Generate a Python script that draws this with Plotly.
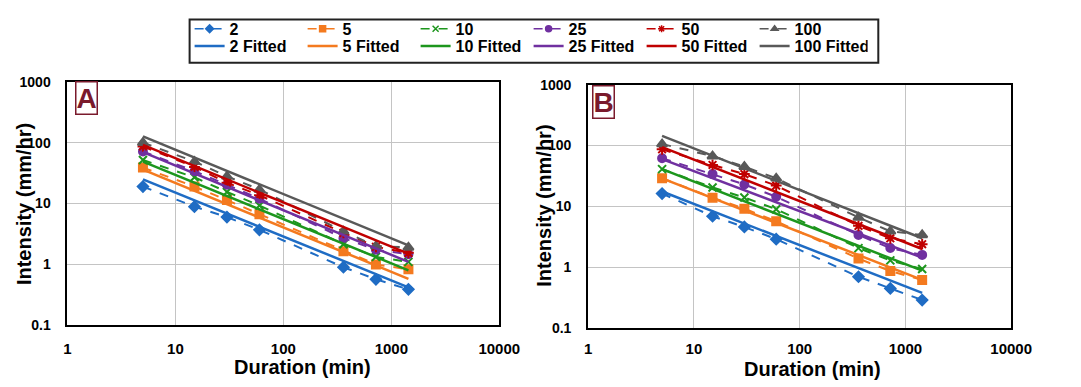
import plotly.graph_objects as go

# ---------------- data ----------------
durations = [5, 15, 30, 60, 360, 720, 1440]
fit_durations = [5, 1440]
periods = ["2", "5", "10", "25", "50", "100"]

# Panel A observed intensities (mm/hr)
a_obs_2 = [19, 8.9, 6.0, 3.7, 0.9, 0.57, 0.39]
a_obs_5 = [39, 19, 11.4, 6.7, 1.65, 1.0, 0.83]
a_obs_10 = [52, 27, 15.5, 9.3, 2.15, 1.33, 1.1]
a_obs_25 = [72, 34, 20.4, 12, 2.7, 1.74, 1.47]
a_obs_50 = [87, 40, 22, 13.7, 3.3, 1.95, 1.55]
a_obs_100 = [100, 49, 28, 17, 3.5, 2.0, 1.9]

# Panel A fitted (at 5 and 1440 min)
a_fit_2 = [25, 0.42]
a_fit_5 = [36, 0.58]
a_fit_10 = [49, 0.8]
a_fit_25 = [70, 1.1]
a_fit_50 = [92, 1.5]
a_fit_100 = [127, 2.05]

# Panel B observed intensities (mm/hr)
b_obs_2 = [16.3, 6.9, 4.6, 2.9, 0.70, 0.45, 0.29]
b_obs_5 = [29, 13.9, 9.2, 5.7, 1.39, 0.87, 0.62]
b_obs_10 = [41, 20.5, 14, 9, 2.07, 1.3, 0.94]
b_obs_25 = [62, 34, 23, 14.4, 3.4, 2.07, 1.6]
b_obs_50 = [87, 48, 34, 22, 4.8, 3.0, 2.4]
b_obs_100 = [106, 67, 45, 29, 6.6, 3.9, 3.4]

# Panel B fitted (at 5 and 1440 min)
b_fit_2 = [17.6, 0.38]
b_fit_5 = [29, 0.62]
b_fit_10 = [41, 0.88]
b_fit_25 = [60, 1.44]
b_fit_50 = [94, 2.0]
b_fit_100 = [144, 3.0]

x_tick_vals = [1, 10, 100, 1000, 10000]
x_tick_text = ["1", "10", "100", "1000", "10000"]
y_tick_vals = [0.1, 1, 10, 100, 1000]
y_tick_text = ["0.1", "1", "10", "100", "1000"]

# ---------------- styles ----------------
colors = ["#1f6cc4", "#f47a1f", "#1d961d", "#7030a0", "#c00000", "#595959"]
symbols = ["diamond", "square", "x-thin", "circle", "asterisk", "triangle-up"]
msizes = [8, 8, 8, 8, 9, 9]

a_obs = [a_obs_2, a_obs_5, a_obs_10, a_obs_25, a_obs_50, a_obs_100]
a_fit = [a_fit_2, a_fit_5, a_fit_10, a_fit_25, a_fit_50, a_fit_100]
b_obs = [b_obs_2, b_obs_5, b_obs_10, b_obs_25, b_obs_50, b_obs_100]
b_fit = [b_fit_2, b_fit_5, b_fit_10, b_fit_25, b_fit_50, b_fit_100]

FONT = "Liberation Sans Narrow, Liberation Sans, Arial, sans-serif"

fig = go.Figure()

def add_panel(obs, fit, xa, ya):
    for i, p in enumerate(periods):
        fig.add_trace(go.Scatter(
            x=durations, y=obs[i], xaxis=xa, yaxis=ya,
            mode="lines+markers", name=p,
            line=dict(color=colors[i], width=2, dash="dash"),
            marker=dict(symbol=symbols[i], size=msizes[i], color=colors[i],
                        line=dict(color=colors[i], width=2)),
            showlegend=False,
        ))
    for i, p in enumerate(periods):
        fig.add_trace(go.Scatter(
            x=fit_durations, y=fit[i], xaxis=xa, yaxis=ya,
            mode="lines", name=p + " Fitted",
            line=dict(color=colors[i], width=2.5),
            showlegend=False,
        ))

add_panel(a_obs, a_fit, "x", "y")
add_panel(b_obs, b_fit, "x2", "y2")

# legend entries (small legend symbols like the reference)
for i, p in enumerate(periods):
    fig.add_trace(go.Scatter(
        x=[None], y=[None], mode="lines+markers", name=p,
        line=dict(color=colors[i], width=1.5, dash="dash"),
        marker=dict(symbol=symbols[i], size=6, color=colors[i],
                    line=dict(color=colors[i], width=1.5)),
        legend="legend",
    ))
for i, p in enumerate(periods):
    fig.add_trace(go.Scatter(
        x=[None], y=[None], mode="lines", name=p + " Fitted",
        line=dict(color=colors[i], width=2.5),
        legend="legend2",
    ))

W, H = 1081, 387

def xdom(l, r):
    return [l / W, r / W]

def ydom(t, b):
    return [(H - b) / H, (H - t) / H]

axis_common = dict(
    type="log", showgrid=True, gridcolor="#c4c4c4", gridwidth=1.3,
    showline=True, linecolor="black", linewidth=2, mirror=True,
    ticks="", zeroline=False,
)
xfont = dict(family=FONT, size=15, color="black", weight="bold")
yfont = dict(family=FONT, size=14, color="black", weight="bold")
title_font = dict(family=FONT, size=20, color="black", weight="bold")
leg_font = dict(family=FONT, size=16, color="black", weight="bold")

def title_ann(text, x, y, angle=0):
    return dict(text=text, xref="paper", yref="paper", x=x / W, y=1 - y / H,
                xanchor="center", yanchor="middle", textangle=angle,
                showarrow=False, font=title_font)

fig.update_layout(
    width=W, height=H,
    margin=dict(l=0, r=0, t=0, b=0),
    paper_bgcolor="white", plot_bgcolor="white",
    font=dict(family=FONT, color="black"),
    xaxis=dict(**axis_common, domain=xdom(65, 507), range=[0, 4], anchor="y",
               tickvals=x_tick_vals, ticktext=x_tick_text, ticklabelstandoff=9,
               tickfont=xfont),
    yaxis=dict(**axis_common, domain=ydom(77, 331), range=[-1, 3], anchor="x",
               tickvals=y_tick_vals, ticktext=y_tick_text, ticklabelstandoff=12,
               tickfont=yfont),
    xaxis2=dict(**axis_common, domain=xdom(598, 1031), range=[0, 4], anchor="y2",
                tickvals=x_tick_vals, ticktext=x_tick_text, ticklabelstandoff=6,
                tickfont=xfont),
    yaxis2=dict(**axis_common, domain=ydom(80, 334), range=[-1, 3], anchor="x2",
                tickvals=y_tick_vals, ticktext=y_tick_text, ticklabelstandoff=12,
                tickfont=yfont),
    legend=dict(orientation="h", x=190 / W, xanchor="left", y=1 - 4 / H, yanchor="top",
                entrywidth=68, entrywidthmode="pixels", bgcolor="rgba(0,0,0,0)",
                font=leg_font, tracegroupgap=0, itemwidth=30),
    legend2=dict(orientation="h", x=190 / W, xanchor="left", y=1 - 22 / H, yanchor="top",
                 entrywidth=68, entrywidthmode="pixels", bgcolor="rgba(0,0,0,0)",
                 font=leg_font, tracegroupgap=0, itemwidth=30),
    shapes=[
        dict(type="rect", xref="paper", yref="paper",
             x0=190 / W, x1=895 / W, y0=1 - 57 / H, y1=1 - 12 / H,
             line=dict(color="#222222", width=2), fillcolor="rgba(0,0,0,0)"),
    ],
    annotations=[
        dict(text="<b>A</b>", xref="paper", yref="paper", x=73 / W, y=1 - 76 / H,
             xanchor="left", yanchor="top", showarrow=False,
             font=dict(family="Liberation Sans, Arial", size=28, color="#7a1a2c"),
             bordercolor="#7a1a2c", borderwidth=1.5, borderpad=0),
        dict(text="<b>B</b>", xref="paper", yref="paper", x=602 / W, y=1 - 80 / H,
             xanchor="left", yanchor="top", showarrow=False,
             font=dict(family="Liberation Sans, Arial", size=28, color="#7a1a2c"),
             bordercolor="#7a1a2c", borderwidth=1.5, borderpad=0),
        title_ann("Intensity (mm/hr)", 20, 205, -90),
        title_ann("Intensity (mm/hr)", 553, 206, -90),
        title_ann("Duration (min)", 306, 375),
        title_ann("Duration (min)", 828, 377),
    ],
)

fig.write_html("out.html")
